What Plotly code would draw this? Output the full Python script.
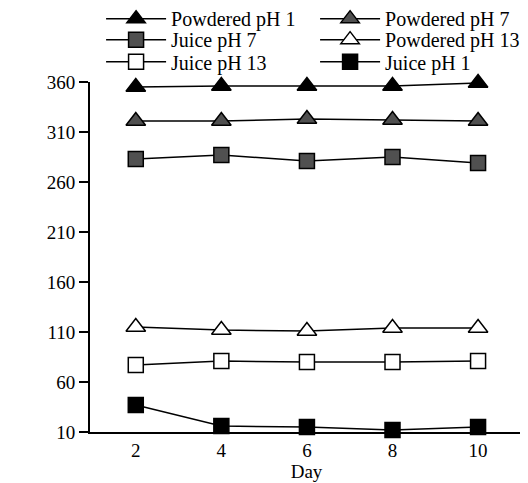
import plotly.graph_objects as go

days = [2, 4, 6, 8, 10]
powdered_ph1 = [355, 356, 356, 356, 359]
powdered_ph7 = [321, 321, 323, 322, 321]
juice_ph7 = [283, 287, 281, 285, 279]
powdered_ph13 = [115, 112, 111, 114, 114]
juice_ph13 = [77, 81, 80, 80, 81]
juice_ph1 = [37, 16, 15, 12, 15]
y_ticks = [10, 60, 110, 160, 210, 260, 310, 360]
x_ticks = [2, 4, 6, 8, 10]

series = [
    ("Powdered pH 1", powdered_ph1, "triangle-up", "black", "legend"),
    ("Powdered pH 7", powdered_ph7, "triangle-up", "#505050", "legend"),
    ("Juice pH 7", juice_ph7, "square", "#505050", "legend2"),
    ("Powdered pH 13", powdered_ph13, "triangle-up", "white", "legend2"),
    ("Juice pH 13", juice_ph13, "square", "white", "legend3"),
    ("Juice pH 1", juice_ph1, "square", "black", "legend3"),
]

fig = go.Figure()
for name, vals, sym, col, leg in series:
    fig.add_trace(go.Scatter(
        x=days, y=vals, name=name, mode="lines+markers", legend=leg,
        line=dict(color="black", width=1.5),
        marker=dict(symbol=sym, size=17 if sym == "triangle-up" else 15,
                    color=col, line=dict(color="black", width=1.5)),
        cliponaxis=False,
    ))

font = "Liberation Serif"
def leg(y):
    return dict(orientation="h", xref="container", yref="paper",
                x=0.179, y=y, xanchor="left", yanchor="middle",
                entrywidth=139, entrywidthmode="pixels", itemwidth=60,
                font=dict(size=20, family=font), bgcolor="rgba(0,0,0,0)")

fig.update_layout(
    width=520, height=475,
    margin=dict(l=82, r=5, t=74, b=51, autoexpand=False),
    plot_bgcolor="white", paper_bgcolor="white",
    font=dict(family=font, size=19, color="black"),
    legend=leg(1.181), legend2=leg(1.121), legend3=leg(1.058),
    xaxis=dict(range=[0.93, 11.05], tickvals=x_ticks, showgrid=False,
               zeroline=False, showline=True, linecolor="black", linewidth=2,
               ticks="", title=dict(text="Day", font=dict(size=19, family=font), standoff=4),
               tickfont=dict(size=19, family=font)),
    yaxis=dict(range=[10, 360], tickvals=y_ticks, showgrid=False,
               zeroline=False, showline=True, linecolor="black", linewidth=2,
               ticks="outside", ticklen=9, tickwidth=2, tickcolor="black",
               title=dict(text="H<sup>0</sup>", font=dict(size=19, family=font), standoff=15),
               tickfont=dict(size=19, family=font)),
)

fig.write_html("out.html")
